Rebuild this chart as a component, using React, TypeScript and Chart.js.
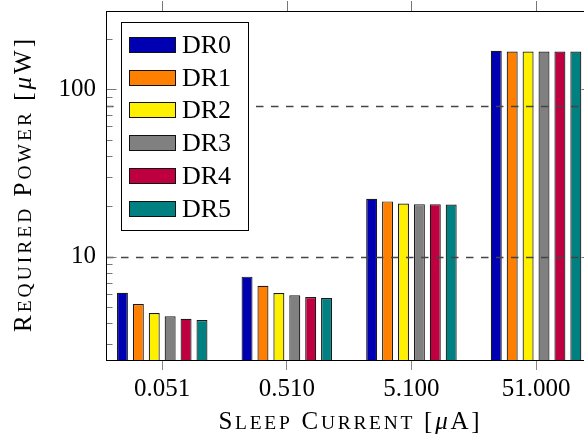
import React, { useEffect, useRef } from 'react';
import { Chart, registerables } from 'chart.js';
Chart.register(...registerables);

const categories = ['0.051', '0.510', '5.100', '51.000'];
const seriesLabels = ['DR0', 'DR1', 'DR2', 'DR3', 'DR4', 'DR5'];
const dr0 = [6.09, 7.6, 22.2, 170];
const dr1 = [5.22, 6.71, 21.4, 168];
const dr2 = [4.61, 6.07, 20.8, 168];
const dr3 = [4.41, 5.88, 20.6, 168];
const dr4 = [4.26, 5.74, 20.6, 168];
const dr5 = [4.18, 5.67, 20.5, 168];
const seriesValues = [dr0, dr1, dr2, dr3, dr4, dr5];
const seriesColors = ['#0000B3', '#FF8000', '#FFF000', '#808080', '#BF0040', '#008080'];
const yMajorTicks = [10, 100];
const yMinorTicks = [3, 4, 5, 6, 7, 8, 9, 20, 30, 40, 50, 60, 70, 80, 90, 200];
const refLines = [10, 80];
const yMin = 2.415;
const yMax = 293.6;

const FONT = '"Liberation Serif", "Times New Roman", serif';
const BIG = 25;
const T_BIG = 25;
const T_SMALL = 19.5;

type Seg = [string, 'B' | 's' | 'I'];

function segFont(kind: string) {
  if (kind === 's') return `${T_SMALL}px ${FONT}`;
  if (kind === 'I') return `italic ${T_BIG}px ${FONT}`;
  return `${T_BIG}px ${FONT}`;
}

function drawSC(ctx: CanvasRenderingContext2D, segs: Seg[], cx: number, by: number, target: number) {
  const chars: { c: string; f: string; w: number }[] = [];
  let total = 0;
  segs.forEach(([t, k]) => {
    const f = segFont(k);
    ctx.font = f;
    for (const c of Array.from(t)) {
      const w = ctx.measureText(c).width;
      chars.push({ c, f, w });
      total += w;
    }
  });
  const gap = chars.length > 1 ? Math.max(0, (target - total) / (chars.length - 1)) : 0;
  const full = total + gap * (chars.length - 1);
  let x = cx - full / 2;
  ctx.textBaseline = 'alphabetic';
  ctx.textAlign = 'left';
  chars.forEach(({ c, f, w }) => {
    ctx.font = f;
    ctx.fillText(c, x, by);
    x += w + gap;
  });
}

const xTitle: Seg[] = [
  ['S', 'B'], ['LEEP', 's'], [' ', 'B'], ['C', 'B'], ['URRENT', 's'], [' [', 'B'], ['\u03BC', 'I'], ['A]', 'B'],
];
const yTitle: Seg[] = [
  ['R', 'B'], ['EQUIRED', 's'], [' ', 'B'], ['P', 'B'], ['OWER', 's'], [' [', 'B'], ['\u03BC', 'I'], ['W]', 'B'],
];

const decor = {
  id: 'decor',
  afterDatasetsDraw(chart: any) {
    const { ctx, chartArea: a, scales } = chart;
    const y = scales.y;
    const x = scales.x;
    ctx.save();
    ctx.beginPath();
    ctx.rect(a.left, a.top, a.right - a.left, a.bottom - a.top);
    ctx.clip();
    ctx.setLineDash([7.5, 7.5]);
    ctx.strokeStyle = '#444';
    ctx.lineWidth = 1.3;
    refLines.forEach((v) => {
      const py = Math.round(y.getPixelForValue(v)) + 0.5;
      ctx.beginPath();
      ctx.moveTo(a.left, py);
      ctx.lineTo(a.right, py);
      ctx.stroke();
    });
    ctx.restore();

    ctx.save();
    ctx.strokeStyle = '#777';
    ctx.lineWidth = 1;
    const tick = (v: number, len: number) => {
      const py = Math.round(y.getPixelForValue(v)) + 0.5;
      ctx.beginPath();
      ctx.moveTo(a.left, py);
      ctx.lineTo(a.left + len, py);
      ctx.moveTo(a.right, py);
      ctx.lineTo(a.right - len, py);
      ctx.stroke();
    };
    yMajorTicks.forEach((v) => tick(v, 10.5));
    yMinorTicks.forEach((v) => tick(v, 6.5));
    categories.forEach((_, i) => {
      const px = Math.round(x.getPixelForValue(i)) + 0.5;
      ctx.beginPath();
      ctx.moveTo(px, a.top);
      ctx.lineTo(px, a.top - 10);
      ctx.stroke();
    });
    ctx.strokeStyle = '#000';
    ctx.lineWidth = 1;
    ctx.strokeRect(Math.round(a.left) + 0.5, Math.round(a.top) + 0.5, Math.round(a.right - a.left), Math.round(a.bottom - a.top));
    ctx.restore();
  },
  afterDraw(chart: any) {
    const { ctx, data } = chart;
    ctx.save();
    const lx = 121.5, ly = 22.5, lw = 127, lh = 208;
    ctx.fillStyle = '#fff';
    ctx.fillRect(lx, ly, lw, lh);
    ctx.strokeStyle = '#000';
    ctx.lineWidth = 1;
    ctx.strokeRect(lx, ly, lw, lh);
    data.datasets.forEach((ds: any, i: number) => {
      const cy = 44.3 + i * 32.8;
      ctx.fillStyle = ds.backgroundColor;
      ctx.fillRect(129.5, Math.round(cy - 7.5) + 0.5, 46, 15);
      ctx.strokeStyle = '#111';
      ctx.strokeRect(129.5, Math.round(cy - 7.5) + 0.5, 46, 15);
      ctx.fillStyle = '#000';
      ctx.font = `26px ${FONT}`;
      ctx.textAlign = 'left';
      ctx.textBaseline = 'alphabetic';
      ctx.fillText(ds.label, 182, cy + 8.5);
    });
    const a = chart.chartArea;
    ctx.fillStyle = '#000';
    drawSC(ctx, xTitle, (a.left + a.right) / 2, 428.5, 261);
    ctx.translate(30.5, (a.top + a.bottom) / 2);
    ctx.rotate(-Math.PI / 2);
    drawSC(ctx, yTitle, 0, 0, 293);
    ctx.restore();
  },
};

export default function App() {
  const ref = useRef<HTMLCanvasElement | null>(null);
  useEffect(() => {
    if (!ref.current) return;
    const chart = new Chart(ref.current, {
      type: 'bar',
      data: {
        datasets: seriesValues.map((vals, i) => ({
          label: seriesLabels[i],
          data: vals.map((v, j) => ({ x: j, y: v })),
          backgroundColor: seriesColors[i],
          borderColor: '#1a1a1a',
          borderWidth: 1.2,
          categoryPercentage: 0.766,
          barPercentage: 0.69,
        })),
      },
      options: {
        responsive: false,
        animation: false,
        devicePixelRatio: 1,
        layout: { padding: { top: 11, right: 8, left: 0, bottom: 0 } },
        plugins: { legend: { display: false }, tooltip: { enabled: false } },
        scales: {
          x: {
            type: 'linear',
            min: -0.451,
            max: 3.449,
            offset: false,
            grid: { display: true, drawOnChartArea: false, drawTicks: true, tickLength: 10, color: '#888', offset: false },
            border: { display: false },
            ticks: {
              font: { family: FONT, size: BIG },
              color: '#000',
              padding: 4,
              maxRotation: 0,
              autoSkip: false,
              callback: (v: any) => categories[v] ?? '',
            },
            afterBuildTicks: (s: any) => {
              s.ticks = categories.map((_, i) => ({ value: i }));
            },
            afterFit: (s: any) => {
              s.height = 83;
              s.paddingLeft = 0;
              s.paddingRight = 0;
            },
          },
          y: {
            type: 'logarithmic',
            min: yMin,
            max: yMax,
            grid: { display: false, drawTicks: false },
            border: { display: false },
            ticks: {
              font: { family: FONT, size: BIG },
              color: '#000',
              padding: 10,
              callback: (v: any) => String(v),
            },
            afterBuildTicks: (s: any) => {
              s.ticks = yMajorTicks.map((v) => ({ value: v }));
            },
            afterFit: (s: any) => {
              s.width = 106;
              s.paddingTop = 0;
              s.paddingBottom = 0;
            },
          },
        },
      } as any,
      plugins: [decor],
    });
    return () => chart.destroy();
  }, []);
  return (
    <div style={{ width: 584, height: 443, overflow: 'hidden', position: 'relative', background: '#fff' }}>
      <style>{'body{margin:0;overflow:hidden;background:#fff}'}</style>
      <canvas ref={ref} width={600} height={443} style={{ display: 'block', width: 600, height: 443 }} />
    </div>
  );
}
